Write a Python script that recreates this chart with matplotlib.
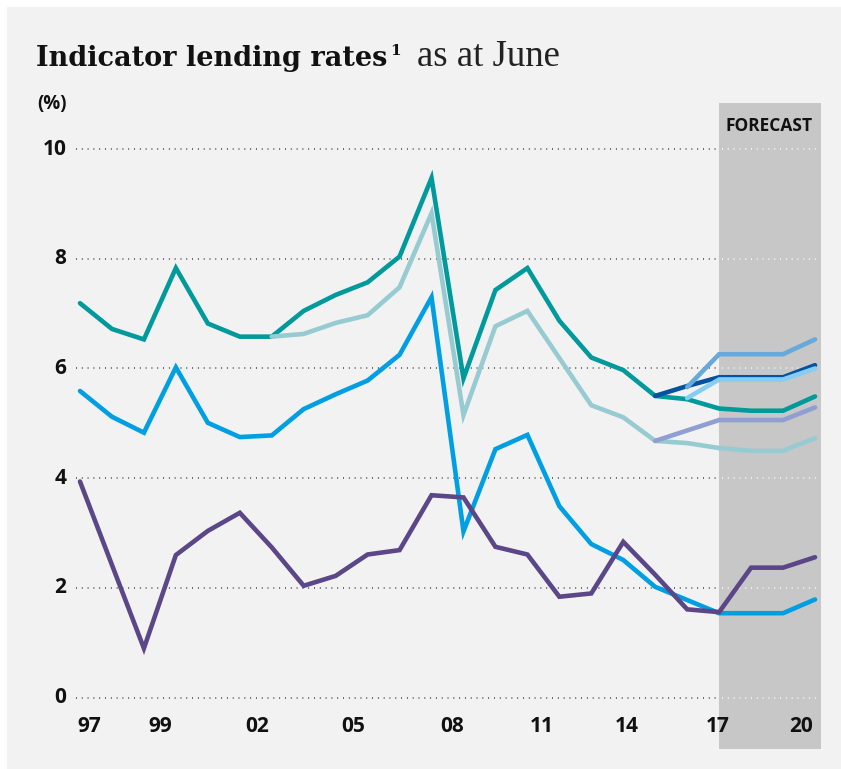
import matplotlib
matplotlib.use("Agg")
import matplotlib.pyplot as plt
from matplotlib.patches import Rectangle

years = list(range(1997, 2021))

standard_variable = [7.19, 6.72, 6.53, 7.83, 6.82, 6.58, 6.58, 7.05, 7.34, 7.57, 8.04, 9.47,
                     5.82, 7.43, 7.83, 6.87, 6.20, 5.97, 5.50, 5.44, 5.27, 5.23, 5.23, 5.49]
discounted_variable_years = list(range(2003, 2021))
discounted_variable = [6.58, 6.63, 6.83, 6.97, 7.48, 8.83, 5.15, 6.77, 7.05, 6.19, 5.33, 5.11,
                       4.68, 4.64, 4.55, 4.50, 4.50, 4.73]
business_rate = [5.59, 5.12, 4.83, 6.02, 5.01, 4.75, 4.78, 5.26, 5.53, 5.78, 6.25, 7.30,
                 3.03, 4.53, 4.79, 3.49, 2.80, 2.51, 2.02, 1.78, 1.54, 1.54, 1.54, 1.79]
real_rate = [3.94, 2.42, 0.90, 2.60, 3.04, 3.37, 2.74, 2.04, 2.22, 2.61, 2.69, 3.69,
             3.65, 2.75, 2.61, 1.84, 1.90, 2.84, 2.24, 1.61, 1.56, 2.37, 2.37, 2.56]

# forecast scenarios
navy_years = [2015, 2016, 2017, 2018, 2019, 2020]
navy_vals = [5.50, 5.68, 5.84, 5.84, 5.84, 6.06]
lavender_years = [2015, 2016, 2017, 2018, 2019, 2020]
lavender_vals = [4.68, 4.87, 5.06, 5.06, 5.06, 5.29]
midblue_years = [2016, 2017, 2018, 2019, 2020]
midblue_vals = [5.66, 6.26, 6.26, 6.26, 6.53]
lightblue_years = [2016, 2017, 2018, 2019, 2020]
lightblue_vals = [5.46, 5.80, 5.80, 5.80, 6.00]

y_ticks = [0, 2, 4, 6, 8, 10]
x_tick_pos = [1997.3, 1999.5, 2002.55, 2005.55, 2008.65, 2011.45, 2014.1, 2016.95, 2019.55]
x_tick_labels = ["97", "99", "02", "05", "08", "11", "14", "17", "20"]

W, H = 841, 769
BG = "#f2f2f2"


def fx(px):
    return px / W


def fy(py):
    return 1 - py / H


def main():
    fig = plt.figure(figsize=(W / 100, H / 100), dpi=100)
    fig.patch.set_facecolor("white")
    fig.patches.append(Rectangle((fx(7), 0), 1 - fx(7), fy(7), transform=fig.transFigure,
                                 facecolor=BG, edgecolor="none", zorder=-5))

    ax = fig.add_axes([fx(60), 1 - 760 / H, 775 / W, 670 / H])
    ax.set_facecolor("none")
    ax.set_zorder(2)
    ax.set_xlim(1997 - 20 / 31.96, 2020 + 20 / 31.96)
    ax.set_ylim(-(760 - 697.7) / 54.87, (697.7 - 90) / 54.87)
    for s in ax.spines.values():
        s.set_visible(False)
    ax.set_xticks([])
    ax.set_yticks([])

    # forecast shading
    ax.axvspan(2017, 2020.18, ymin=(760 - 749) / 670, ymax=(760 - 103) / 670,
               color="#c6c7c6", lw=0, zorder=1)
    ax.text(2018.57, (697.7 - 126) / 54.87, "FORECAST", ha="center", va="center",
            fontsize=12.5, fontweight="bold", family="Open Sans", color="#111111", zorder=2)

    # grid
    for y in y_ticks:
        ax.hlines(y, 1996.875, 2017, colors="#333333", lw=1.1, linestyles=(0, (0.6, 3.2)), zorder=2)
        ax.hlines(y, 2017.1, 2020.1, colors="white", lw=1.1, linestyles=(0, (0.6, 3.2)), zorder=2)
        ax.text(1996.85 - 9 / 31.96, y, str(y), ha="right", va="center", fontsize=15,
                fontweight="bold", family="Open Sans", color="#111111")

    for xp, lab in zip(x_tick_pos, x_tick_labels):
        ax.text(xp, (697.7 - 726) / 54.87, lab, ha="center", va="center", fontsize=15,
                fontweight="bold", family="Open Sans", color="#111111")

    lw = 3.3
    kw = dict(solid_capstyle="round", solid_joinstyle="miter", zorder=3)
    ax.plot(years, standard_variable, color="#00999c", lw=lw, **kw)
    ax.plot(discounted_variable_years, discounted_variable, color="#97cbd2", lw=lw, **kw)
    ax.plot(years, business_rate, color="#009fe3", lw=lw, **kw)
    ax.plot(years, real_rate, color="#5b4688", lw=lw, **kw)
    ax.plot(navy_years, navy_vals, color="#0452a0", lw=lw, **kw)
    ax.plot(lavender_years, lavender_vals, color="#8f9fd2", lw=lw, **kw)
    ax.plot(midblue_years, midblue_vals, color="#67a9da", lw=lw, **kw)
    ax.plot(lightblue_years, lightblue_vals, color="#85cdf2", lw=lw, **kw)

    # titles
    fig.text(fx(36), fy(66), "Indicator lending rates", ha="left", va="baseline",
             fontsize=19.5, fontweight="bold", family="DejaVu Serif", color="#111111")
    fig.text(fx(390), fy(55), "1", ha="left", va="baseline", fontsize=11,
             fontweight="bold", family="DejaVu Serif", color="#111111")
    fig.text(fx(417), fy(66), "as at June", ha="left", va="baseline", fontsize=26.5,
             family="Liberation Serif", color="#222222")
    fig.text(fx(37), fy(104), "(%)", ha="left", va="center", fontsize=13.5,
             fontweight="bold", family="Open Sans", color="#111111")

    fig.savefig("out.png", dpi=100, facecolor=fig.get_facecolor())


if __name__ == "__main__":
    main()
